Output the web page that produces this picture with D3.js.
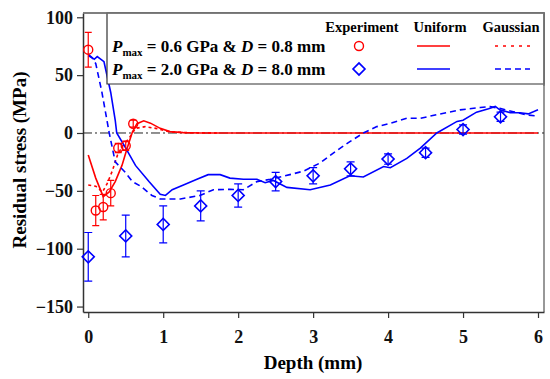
<!DOCTYPE html>
<html>
<head>
<meta charset="utf-8">
<script src="https://cdn.jsdelivr.net/npm/d3@7/dist/d3.min.js"></script>
<style>
  body { margin: 0; background: #fff; }
</style>
</head>
<body>
<svg id="chart"></svg>
<script>
var $svg = {width: 550, height: 379};
var $red = '#ff0000';
var $blue = '#0000ff';
var $font = "'Liberation Serif', 'Times New Roman', 'DejaVu Serif', serif";

// experiment, Pmax = 0.6 GPa & D = 0.8 mm
var redExpX = [0, 0.1, 0.2, 0.3, 0.4, 0.5, 0.6];
var redExpY = [72, -67, -64, -52, -13, -11, 8];
var redExpErr = [15, 13, 11, 11, 4, 4, 3];

// experiment, Pmax = 2.0 GPa & D = 8.0 mm
var blueExpX = [0, 0.5, 1, 1.5, 2, 2.5, 3, 3.5, 4, 4.5, 5, 5.5];
var blueExpY = [-107, -89, -79, -63, -54, -42, -37, -31, -22.5, -17, 3, 14];
var blueExpErr = [21, 18, 16, 13, 10, 8, 7, 6, 4.5, 4, 4, 4];

// simulations
var redUniX = [0, 0.1, 0.2, 0.28, 0.36, 0.45, 0.52, 0.59, 0.65, 0.74, 0.83, 0.96, 1.09, 1.27, 1.5, 2, 3, 4, 5, 6];
var redUniY = [-19, -39, -55, -51, -42, -28, -13, 1, 8, 10.5, 8.5, 4, 1.2, 0.3, 0, 0, 0, 0, 0, 0];
var redGauX = [0, 0.1, 0.19, 0.25, 0.32, 0.39, 0.45, 0.54, 0.63, 0.76, 0.9, 1.09, 1.3, 1.75];
var redGauY = [-45, -46, -51, -44, -33, -19, -12, -5, 4, 5.5, 4, 1, 0.3, 0];
var blueUniX = [0, 0.08, 0.12, 0.21, 0.3, 0.36, 0.38, 0.5, 0.63, 0.81, 0.96, 1.03, 1.12, 1.27, 1.45, 1.6, 1.76, 1.89, 2.07, 2.25, 2.36, 2.47, 2.65, 2.96, 3.23, 3.49, 3.67, 3.94, 4.03, 4.25, 4.43, 4.65, 4.92, 5.0, 5.18, 5.34, 5.43, 5.49, 5.63, 5.76, 5.87, 6.0];
var blueUniY = [68, 63.7, 66, 61.6, 35, 11, 0, -13, -28, -42, -53, -54, -49, -45, -40, -36, -36, -39, -40, -40, -43, -41, -47, -49, -45, -37, -38, -29, -30, -22, -13, 0, 10, 11, 18, 21, 23, 20, 17.5, 17.5, 16.5, 20];
var blueGauX = [0, 0.05, 0.1, 0.18, 0.28, 0.36, 0.48, 0.59, 0.7, 0.85, 0.96, 1.23, 1.49, 1.67, 1.89, 2.07, 2.25, 2.43, 2.69, 2.87, 3.09, 3.32, 3.49, 3.67, 3.85, 4.03, 4.25, 4.43, 4.69, 4.96, 5.23, 5.36, 5.49, 5.67, 5.85, 6.0];
var blueGauY = [67, 65, 60, 36, 0, -25, -33, -42, -46, -54, -57, -57, -54, -49, -48.7, -49, -42, -40, -36, -33, -26, -15, -7.5, 0, 5.5, 8.4, 12.7, 12.7, 16.4, 20, 22, 22.8, 21.3, 18.4, 15.6, 14.7];

var xTicks = [0, 1, 2, 3, 4, 5, 6];
var yTicks = [100, 50, 0, -50, -100, -150];
var legendHeads = ['Experiment', 'Uniform', 'Gaussian'];

function zip (xs, ys) {
    return xs.map((x, i) => [x, ys[i]]);
}

function makeChart () {
    var plot = {left: 83, right: 544, top: 13, bottom: 312};
    var x = d3.scaleLinear().domain([-0.07, 6.08]).range([plot.left, plot.right]);
    var y = d3.scaleLinear().domain([-154.7, 103.7]).range([plot.bottom, plot.top]);

    var main = (
        d3.select('svg#chart')
        .attr('width', $svg.width)
        .attr('height', $svg.height)
        .style('font-family', $font)
        .attr('font-weight', 'bold')
    );

    // top / right frame
    main.append('path')
        .attr('d', `M${plot.left},${plot.top}H${plot.right}V${plot.bottom}`)
        .attr('fill', 'none')
        .attr('stroke', '#777')
        .attr('stroke-width', 1.5);

    var xAxis = main.append('g')
        .attr('transform', `translate(0,${plot.bottom})`)
        .call(d3.axisBottom(x).tickValues(xTicks).tickFormat(d3.format('d'))
            .tickSize(6).tickPadding(11).tickSizeOuter(0));
    var yAxis = main.append('g')
        .attr('transform', `translate(${plot.left},0)`)
        .call(d3.axisLeft(y).tickValues(yTicks).tickFormat(d3.format('d'))
            .tickSize(6).tickPadding(4).tickSizeOuter(0));
    [xAxis, yAxis].forEach((ax) => {
        ax.attr('font-family', null).attr('font-size', 18).attr('font-weight', 'bold');
        ax.select('.domain').attr('stroke', '#333').attr('stroke-width', 1.5);
        ax.selectAll('.tick line').attr('stroke', '#333').attr('stroke-width', 1.2);
        ax.selectAll('.tick text').attr('fill', '#111');
    });
    xAxis.selectAll('.tick text').attr('dy', '0.75em');

    main.append('text')
        .attr('x', 313).attr('y', 369)
        .attr('text-anchor', 'middle')
        .attr('font-size', 19)
        .text('Depth (mm)');
    main.append('text')
        .attr('transform', 'translate(26,160) rotate(-90)')
        .attr('text-anchor', 'middle')
        .attr('font-size', 19)
        .text('Residual stress (MPa)');

    // zero reference
    main.append('line')
        .attr('x1', plot.left).attr('x2', plot.right)
        .attr('y1', y(0)).attr('y2', y(0))
        .attr('stroke', '#222').attr('stroke-width', 1)
        .attr('stroke-dasharray', '9,3,2,3');

    var line = d3.line().x(d => x(d[0])).y(d => y(d[1]));
    var curves = [
        {pts: zip(redGauX, redGauY), color: $red, dash: '3,3'},
        {pts: zip(redUniX, redUniY), color: $red, dash: null},
        {pts: zip(blueGauX, blueGauY), color: $blue, dash: '6,4'},
        {pts: zip(blueUniX, blueUniY), color: $blue, dash: null}
    ];
    curves.forEach((c) => {
        main.append('path')
            .attr('d', line(c.pts))
            .attr('fill', 'none')
            .attr('stroke', c.color)
            .attr('stroke-width', 1.6)
            .attr('stroke-dasharray', c.dash);
    });

    function errorBars (xs, ys, es, color, cap) {
        var g = main.append('g').attr('stroke', color).attr('stroke-width', 1.2).attr('fill', 'none');
        xs.forEach((xv, i) => {
            var px = x(xv), top = y(ys[i] + es[i]), bot = y(ys[i] - es[i]);
            g.append('path').attr('d',
                `M${px},${top}V${bot}M${px - cap},${top}H${px + cap}M${px - cap},${bot}H${px + cap}`);
        });
    }
    errorBars(redExpX, redExpY, redExpErr, $red, 3.5);
    errorBars(blueExpX, blueExpY, blueExpErr, $blue, 4);

    main.append('g').selectAll('circle')
        .data(zip(redExpX, redExpY)).join('circle')
        .attr('cx', d => x(d[0])).attr('cy', d => y(d[1])).attr('r', 4.5)
        .attr('fill', 'none').attr('stroke', $red).attr('stroke-width', 1.4);
    var diamond = d3.symbol().type(d3.symbolSquare).size(72);
    main.append('g').selectAll('path')
        .data(zip(blueExpX, blueExpY)).join('path')
        .attr('d', diamond)
        .attr('transform', d => `translate(${x(d[0])},${y(d[1])}) rotate(45)`)
        .attr('fill', 'none').attr('stroke', $blue).attr('stroke-width', 1.6);

    makeLegend(main, plot);
}

function makeLegend (main, plot) {
    var box = {left: 107, top: plot.top, right: plot.right, bottom: 84};
    main.append('path')
        .attr('d', `M${box.left},${box.top}V${box.bottom}H${box.right}V${box.top}Z`)
        .attr('fill', '#fff').attr('stroke', '#333').attr('stroke-width', 1.2);
    main.append('path')
        .attr('d', `M${plot.left},${plot.top}H${plot.right}V${box.bottom + 2}`)
        .attr('fill', 'none').attr('stroke', '#777').attr('stroke-width', 1.5);

    var headX = [362, 440, 511];
    main.selectAll('text.head')
        .data(legendHeads).join('text')
        .attr('class', 'head')
        .attr('x', (d, i) => headX[i]).attr('y', 32)
        .attr('text-anchor', 'middle')
        .attr('font-size', 14.5)
        .text(d => d);

    var rows = [
        {p: '0.6', d: '0.8', y: 52, color: $red, dash: '3,5', mark: 'circle'},
        {p: '2.0', d: '8.0', y: 75, color: $blue, dash: '6,4', mark: 'diamond'}
    ];
    rows.forEach((r) => {
        var t = main.append('text').attr('x', 112).attr('y', r.y).attr('font-size', 17);
        t.append('tspan').attr('font-style', 'italic').text('P');
        t.append('tspan').attr('dy', 4).attr('font-size', 11).text('max');
        t.append('tspan').attr('dy', -4).text(` = ${r.p} GPa & `);
        t.append('tspan').attr('font-style', 'italic').text('D');
        t.append('tspan').text(` = ${r.d} mm`);

        var my = r.y - 6;
        if (r.mark === 'circle') {
            main.append('circle').attr('cx', 359).attr('cy', my).attr('r', 4.5)
                .attr('fill', 'none').attr('stroke', r.color).attr('stroke-width', 1.4);
        } else {
            main.append('path').attr('d', d3.symbol().type(d3.symbolSquare).size(72))
                .attr('transform', `translate(359,${my}) rotate(45)`)
                .attr('fill', 'none').attr('stroke', r.color).attr('stroke-width', 1.6);
        }
        main.append('line').attr('x1', 417).attr('x2', 450).attr('y1', my).attr('y2', my)
            .attr('stroke', r.color).attr('stroke-width', 1.6);
        main.append('line').attr('x1', 495).attr('x2', 530).attr('y1', my).attr('y2', my)
            .attr('stroke', r.color).attr('stroke-width', 1.6).attr('stroke-dasharray', r.dash);
    });
}

makeChart();
</script>
</body>
</html>
